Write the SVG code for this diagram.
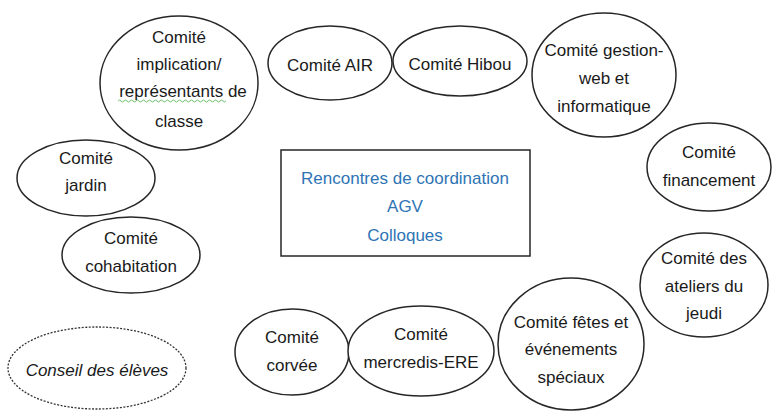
<svg xmlns="http://www.w3.org/2000/svg" width="774" height="412" viewBox="0 0 774 412">
<style>
.n{fill:#fff;stroke:#262626;stroke-width:1.5}
.d{fill:#fff;stroke:#333;stroke-width:1.3;stroke-dasharray:2 1.5}
.t{font-family:"Liberation Sans",Arial,sans-serif;font-size:17px;fill:#1a1a1a;text-anchor:middle;dominant-baseline:central}
.b{fill:#2e74b5}
.i{font-style:italic}
</style>
<rect width="774" height="412" fill="#fff"/>
<g id="connectors"></g>
<g id="coordination">
<rect x="281" y="150" width="249" height="106" fill="#fff" stroke="#262626" stroke-width="1.5"/>
<text class="t b" x="405" y="178">Rencontres de coordination</text>
<text class="t b" x="405" y="206">AGV</text>
<text class="t b" x="405" y="235">Colloques</text>
</g>
<g id="implication">
<ellipse class="n" cx="179" cy="83" rx="79" ry="67"/>
<text class="t" x="179" y="37">Comité</text>
<text class="t" x="179" y="64">implication/</text>
<text class="t" x="183" y="91">représentants de</text>
<path d="M118 101 q1.5 -2 3 0 t3 0 t3 0 t3 0 t3 0 t3 0 t3 0 t3 0 t3 0 t3 0 t3 0 t3 0 t3 0 t3 0 t3 0 t3 0 t3 0 t3 0 t3 0 t3 0 t3 0 t3 0 t3 0 t3 0 t3 0 t3 0 t3 0 t3 0 t3 0 t3 0 t3 0 t3 0 t3 0 t3 0 t3 0 t3 0" fill="none" stroke="#6cbf6c" stroke-width="1"/>
<text class="t" x="179" y="121">classe</text>
</g>
<g id="air">
<ellipse class="n" cx="330" cy="63" rx="62" ry="37"/>
<text class="t" x="330" y="65">Comité AIR</text>
</g>
<g id="hibou">
<ellipse class="n" cx="460" cy="61" rx="67" ry="35"/>
<text class="t" x="460" y="64">Comité Hibou</text>
</g>
<g id="gestion">
<ellipse class="n" cx="604" cy="75" rx="72" ry="62"/>
<text class="t" x="604" y="50">Comité gestion-</text>
<text class="t" x="604" y="78">web et</text>
<text class="t" x="604" y="106">informatique</text>
</g>
<g id="jardin">
<ellipse class="n" cx="86" cy="178" rx="69" ry="38"/>
<text class="t" x="86" y="158">Comité</text>
<text class="t" x="86" y="185">jardin</text>
</g>
<g id="financement">
<ellipse class="n" cx="709" cy="167" rx="62" ry="44"/>
<text class="t" x="709" y="152">Comité</text>
<text class="t" x="709" y="180">financement</text>
</g>
<g id="cohabitation">
<ellipse class="n" cx="131" cy="255" rx="69" ry="38"/>
<text class="t" x="131" y="238">Comité</text>
<text class="t" x="131" y="266">cohabitation</text>
</g>
<g id="ateliers">
<ellipse class="n" cx="704" cy="285" rx="64" ry="52"/>
<text class="t" x="704" y="258">Comité des</text>
<text class="t" x="704" y="286">ateliers du</text>
<text class="t" x="704" y="313">jeudi</text>
</g>
<g id="conseil">
<ellipse class="d" cx="97" cy="368" rx="89" ry="41"/>
<text class="t i" x="97" y="370">Conseil des élèves</text>
</g>
<g id="corvee">
<ellipse class="n" cx="292" cy="352" rx="57" ry="43"/>
<text class="t" x="292" y="337">Comité</text>
<text class="t" x="292" y="365">corvée</text>
</g>
<g id="mercredis">
<ellipse class="n" cx="421" cy="351" rx="73" ry="45"/>
<text class="t" x="421" y="334">Comité</text>
<text class="t" x="421" y="362">mercredis-ERE</text>
</g>
<g id="fetes">
<ellipse class="n" cx="571" cy="344" rx="73" ry="66"/>
<text class="t" x="571" y="322">Comité fêtes et</text>
<text class="t" x="571" y="349">événements</text>
<text class="t" x="571" y="377">spéciaux</text>
</g>
</svg>
